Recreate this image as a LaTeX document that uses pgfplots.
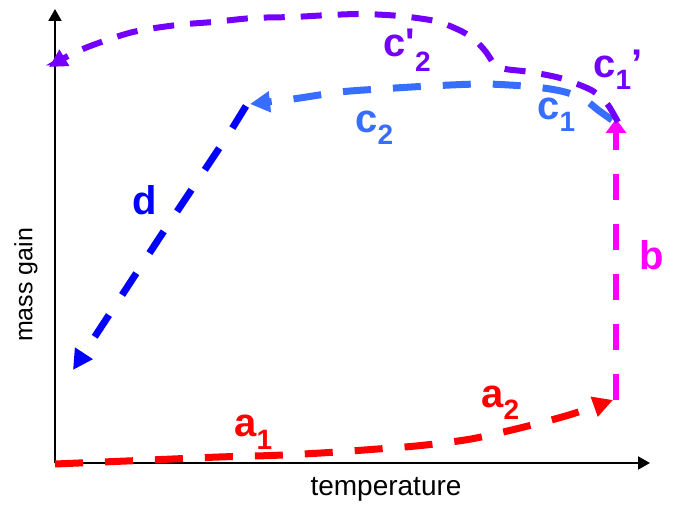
\documentclass[border=0pt]{standalone}
\usepackage{fontspec}
\setmainfont{Liberation Sans}
\usepackage{pgfplots}
\pgfplotsset{compat=1.18}
\usetikzlibrary{arrows.meta}

\definecolor{cpurp}{RGB}{115,0,255}
\definecolor{clblue}{RGB}{55,110,255}
\definecolor{cblue}{RGB}{0,0,255}
\definecolor{cmag}{RGB}{255,0,255}
\definecolor{cred}{RGB}{255,0,0}

% label helpers: main letter 20pt bold, subscript 14pt lowered
\newcommand{\lab}{\fontsize{20}{20}\selectfont\bfseries}
\newcommand{\sub}[2]{\raisebox{-#1}{\fontsize{14}{14}\selectfont\bfseries #2}}

\begin{document}
\begin{tikzpicture}
\begin{axis}[
  x=0.5pt, y=0.5pt,
  xmin=55, xmax=650, ymin=43, ymax=497,
  axis lines=left,
  axis line style={line width=1pt},
  every outer x axis line/.append style={-{Triangle[length=6pt,width=6.5pt]}},
  every outer y axis line/.append style={-{Triangle[length=6pt,width=6.5pt]}},
  xtick=\empty, ytick=\empty,
  clip=false,
  tip/.style={-{Triangle[length=10pt,width=10pt]}},
  dashline/.style={line width=3.5pt, dash pattern=on 14pt off 11pt, smooth},
]
% a: heating, slow then faster mass gain
\addplot[cred, dashline, tip] coordinates {
 (55,42) (150,46) (219,49) (271,50.5) (321,53) (371,56.5)
 (421,60.5) (471,67) (520,78) (569,91) (613,106)};
% b: vertical jump
\addplot[cmag, line width=3pt, dash pattern=on 13pt off 12pt,
  -{Triangle[length=7pt,width=10pt]}] coordinates {
 (616,106) (616,387)};
% c1 / c2
\addplot[clblue, dashline, tip] coordinates {
 (612,386) (598,396) (585,406) (565,414) (535,419) (485,422)
 (430,420) (380,417) (340,414) (293,407) (250,402)};
% d
\addplot[cblue, line width=3.5pt, dash pattern=on 13pt off 12pt, tip] coordinates {
 (246,400) (230,374) (160,269) (73,136)};
% c1' / c2'
\addplot[cpurp, line width=3pt, dash pattern=on 10.5pt off 8pt, smooth, tension=0.5,
  -{Triangle[length=9pt,width=9pt]}] coordinates {
 (618,384) (608,401) (597,412) (587,418) (560,428) (530,434)
 (505,437) (495,441) (486,454) (475,466) (463,474) (445,482)
 (430,486) (400,490) (363,492) (330,491) (293,489) (253,488)
 (213,484) (177,481) (133,474) (93,461) (70,451) (49,439)};

% labels
\node[cpurp, anchor=base west, inner sep=0] at (axis cs:383,449)
  {\lab c\textquotesingle\sub{7.5pt}{2}};
\node[cpurp, anchor=base west, inner sep=0] at (axis cs:593,428)
  {\lab c\sub{6pt}{1}’};
\node[clblue, anchor=base west, inner sep=0] at (axis cs:537,386)
  {\lab c\sub{6pt}{1}};
\node[clblue, anchor=base west, inner sep=0] at (axis cs:355,373)
  {\lab c\sub{6pt}{2}};
\node[cblue, anchor=base west, inner sep=0] at (axis cs:132,291) {\lab d};
\node[cmag, anchor=base west, inner sep=0] at (axis cs:639,236) {\lab b};
\node[cred, anchor=base west, inner sep=0] at (axis cs:234,69)
  {\lab a\sub{6.5pt}{1}};
\node[cred, anchor=base west, inner sep=0] at (axis cs:481,98)
  {\lab a\sub{6pt}{2}};

\node[font=\fontsize{14}{14}\selectfont] at (axis cs:386,17) {temperature};
\node[font=\fontsize{12.5}{12.5}\selectfont, rotate=90] at (axis cs:26,221) {mass gain};

\path (axis cs:0,0) rectangle (axis cs:673,506);
\end{axis}
\end{tikzpicture}
\end{document}
